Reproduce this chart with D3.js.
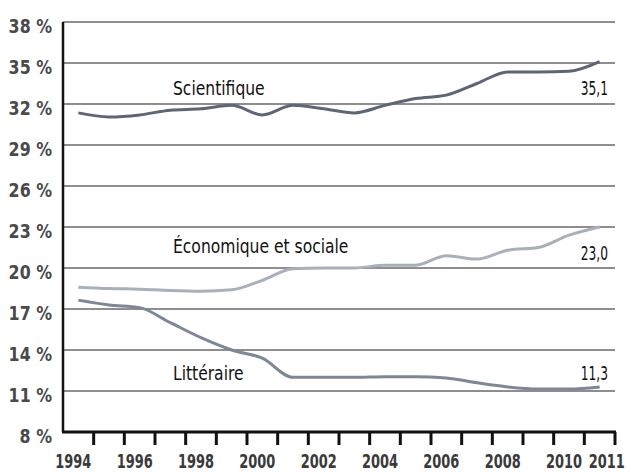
<!DOCTYPE html>
<html>
<head>
<meta charset="utf-8">
<script src="https://cdn.jsdelivr.net/npm/d3@7"></script>
<style>
  body { margin: 0; background: #fff; }
  svg text { font-family: "DejaVu Sans Condensed", "DejaVu Sans", sans-serif; }
</style>
</head>
<body>
<div id="visContainer"></div>
<script>
'use strict';

// data (share of bac général, %)
var years = [1994, 1995, 1996, 1997, 1998, 1999, 2000, 2001, 2002, 2003,
             2004, 2005, 2006, 2007, 2008, 2009, 2010, 2011];
var scientifique = [31.35, 31.05, 31.2, 31.55, 31.65, 31.9, 31.2, 31.9, 31.65, 31.35,
                    31.9, 32.4, 32.65, 33.5, 34.35, 34.35, 34.4, 35.1];
var economique = [18.6, 18.5, 18.45, 18.35, 18.3, 18.4, 19.1, 19.95, 20.0, 20.0,
                  20.2, 20.2, 20.9, 20.65, 21.3, 21.5, 22.4, 23.0];
var litteraire = [17.65, 17.3, 17.1, 16.0, 14.9, 14.0, 13.4, 12.0, 12.0, 12.0,
                  12.05, 12.05, 11.95, 11.6, 11.3, 11.15, 11.15, 11.3];
var yTicks = [8, 11, 14, 17, 20, 23, 26, 29, 32, 35, 38];
var xLabels = [1994, 1996, 1998, 2000, 2002, 2004, 2006, 2008, 2010, 2011];
var seriesNames = ['Scientifique', 'Économique et sociale', 'Littéraire'];
var endLabels = ['35,1', '23,0', '11,3'];

var width = 633;
var height = 472;
var svg = d3.select('#visContainer')
    .append('svg')
    .attr('width', width)
    .attr('height', height);

var x = d3.scaleLinear().domain([1993.5, 2011.5]).range([63, 615]);
var y = d3.scaleLinear().domain([8, 38]).range([432, 22]);

function squeeze(sel, k) {
  /*narrow the text horizontally around its anchor, the reference uses a condensed face*/
  sel.each(function() {
    var t = d3.select(this);
    var tx = +t.attr('x'), ty = +t.attr('y');
    t.attr('x', 0).attr('y', 0)
     .attr('transform', 'translate(' + tx + ',' + ty + ') scale(' + k + ',1)');
  });
}

// horizontal grid lines
svg.append('g')
    .selectAll('line')
    .data(yTicks.slice(1))
    .enter().append('line')
    .attr('x1', x(1993.5)).attr('x2', x(2011.5))
    .attr('y1', function(d) { return y(d); })
    .attr('y2', function(d) { return y(d); })
    .attr('stroke', '#8e8e8e')
    .attr('stroke-width', 2);

// y labels
svg.append('g')
    .selectAll('text')
    .data(yTicks)
    .enter().append('text')
    .attr('x', 52)
    .attr('y', function(d) { return y(d) + 11; })
    .attr('text-anchor', 'end')
    .attr('font-size', '20px')
    .attr('font-weight', 'bold')
    .attr('fill', '#4a4a4a')
    .text(function(d) { return d + ' %'; })
    .call(squeeze, 0.88);

// series lines
var line = d3.line()
    .x(function(d, i) { return x(years[i]); })
    .y(function(d) { return y(d); })
    .curve(d3.curveMonotoneX);

var series = [
  { values: scientifique, color: '#5d6577' },
  { values: economique, color: '#a9b0bb' },
  { values: litteraire, color: '#7e8797' }
];
series.forEach(function(s) {
  svg.append('path')
      .attr('d', line(s.values))
      .attr('fill', 'none')
      .attr('stroke', s.color)
      .attr('stroke-width', 3);
});

// axes
svg.append('line')
    .attr('x1', x(1993.5)).attr('x2', x(1993.5))
    .attr('y1', y(38)).attr('y2', y(8))
    .attr('stroke', '#111').attr('stroke-width', 2.5);
svg.append('line')
    .attr('x1', x(1993.5) - 1).attr('x2', x(2011.5) + 1)
    .attr('y1', y(8)).attr('y2', y(8))
    .attr('stroke', '#111').attr('stroke-width', 3);

// x ticks, half way between years
svg.append('g')
    .selectAll('line')
    .data(years)
    .enter().append('line')
    .attr('x1', function(d) { return x(d + 0.5); })
    .attr('x2', function(d) { return x(d + 0.5); })
    .attr('y1', y(8)).attr('y2', y(8) + 13)
    .attr('stroke', '#111').attr('stroke-width', 3);

svg.append('g')
    .selectAll('text')
    .data(xLabels)
    .enter().append('text')
    .attr('x', function(d) { return d == 2011 ? x(d) + 7 : x(d) - 5; })
    .attr('y', 468)
    .attr('text-anchor', 'middle')
    .attr('font-size', '20px')
    .attr('font-weight', 'bold')
    .attr('fill', '#3a3a3a')
    .text(function(d) { return d; })
    .call(squeeze, 0.72);

// series names and last values
var nameY = [35, 23, 14];
seriesNames.forEach(function(n, i) {
  svg.append('text')
      .attr('x', 173)
      .attr('y', y(nameY[i]) - (i == 0 ? -32 : (i == 1 ? -26 : -30)))
      .attr('font-size', '19px')
      .attr('fill', '#111')
      .text(n)
      .call(squeeze, 0.91);
});
var lastVals = [scientifique, economique, litteraire];
lastVals.forEach(function(v, i) {
  var last = v[v.length - 1];
  svg.append('text')
      .attr('x', 608)
      .attr('y', y(last) + (i == 2 ? -7 : 33))
      .attr('text-anchor', 'end')
      .attr('font-size', '20px')
      .attr('fill', '#111')
      .text(endLabels[i])
      .call(squeeze, 0.68);
});
</script>
</body>
</html>
